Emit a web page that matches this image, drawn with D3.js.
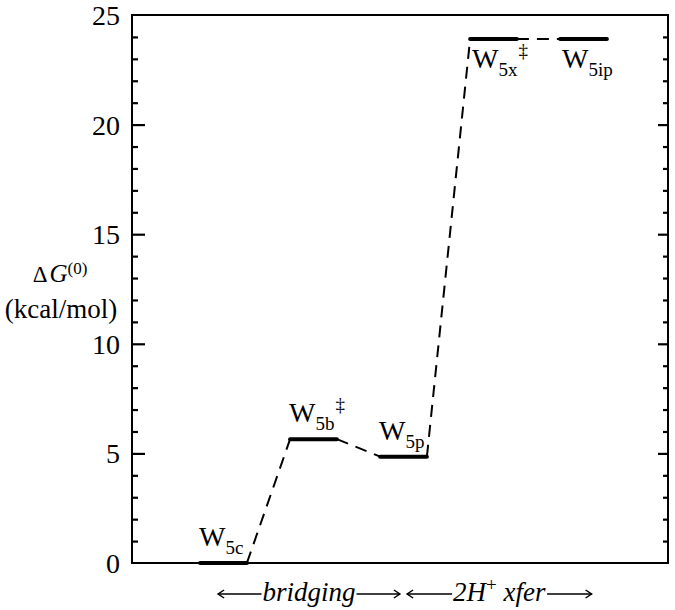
<!DOCTYPE html>
<html>
<head>
<meta charset="utf-8">
<script src="https://cdn.jsdelivr.net/npm/d3@7"></script>
<style>
  html, body { margin: 0; padding: 0; background: #fff; }
  svg { display: block; }
</style>
</head>
<body>
<div id="chart"></div>
<script>
// ---------- data ----------
const stateNames   = ["W5c", "W5b‡", "W5p", "W5x‡", "W5ip"];
const stateBase    = ["W", "W", "W", "W", "W"];
const stateSubs    = ["5c", "5b", "5p", "5x", "5ip"];
const stateSups    = ["", "‡", "", "‡", ""];
const statePos     = [1, 2, 3, 4, 5];
const energies     = [0, 5.65, 4.85, 23.9, 23.9];
const majorTicks   = [0, 5, 10, 15, 20, 25];
const minorTicks   = d3.range(0, 26, 1).filter(v => v % 5 !== 0);
const regionLabels = ["bridging", "2H+ xfer"];
const regionFrom   = [0.94, 3.04];
const regionTo     = [2.96, 5.09];

// ---------- layout ----------
const W = 675, H = 610;
const FONT = "Liberation Serif";
const plot = { left: 132, right: 668, top: 15, bottom: 563 };
const halfWidth = 0.26;   // half-length of level bars in x units

const x = d3.scaleLinear().domain([1, 5]).range([223.5, 583.5]);
const y = d3.scaleLinear().domain([0, 25]).range([plot.bottom, plot.top]);

const svg = d3.select("#chart").append("svg")
  .attr("width", W).attr("height", H)
  .attr("font-family", FONT);

function serif(sel, size) {
  return sel.attr("font-family", FONT).attr("font-size", size);
}

// ---------- axes ticks ----------
function styleAxis(g) {
  g.select(".domain").remove();
  g.selectAll(".tick line").attr("stroke", "#000").attr("stroke-width", 2.2);
}
const inner = majorTicks.filter(v => v > 0 && v < 25);
svg.append("g").attr("transform", `translate(${plot.left},0)`)
  .call(d3.axisRight(y).tickValues(minorTicks).tickSize(6).tickFormat(""))
  .call(styleAxis);
svg.append("g").attr("transform", `translate(${plot.left},0)`)
  .call(d3.axisRight(y).tickValues(inner).tickSize(13).tickFormat(""))
  .call(styleAxis);
svg.append("g").attr("transform", `translate(${plot.right},0)`)
  .call(d3.axisLeft(y).tickValues(minorTicks).tickSize(5).tickFormat(""))
  .call(styleAxis);
svg.append("g").attr("transform", `translate(${plot.right},0)`)
  .call(d3.axisLeft(y).tickValues(inner).tickSize(10).tickFormat(""))
  .call(styleAxis);
const lab = svg.append("g").attr("transform", `translate(${plot.left},0)`)
  .call(d3.axisLeft(y).tickValues(majorTicks).tickSize(0).tickPadding(12).tickFormat(d3.format("d")));
lab.select(".domain").remove();
serif(lab, 28);
serif(lab.selectAll("text"), 28).attr("fill", "#000").attr("dy", "0.34em");

// frame
svg.append("rect")
  .attr("x", plot.left).attr("y", plot.top)
  .attr("width", plot.right - plot.left).attr("height", plot.bottom - plot.top)
  .attr("fill", "none").attr("stroke", "#000").attr("stroke-width", 2);

// ---------- y axis title ----------
const t1 = serif(svg.append("text").attr("x", 60).attr("y", 282).attr("text-anchor", "middle"), 23);
t1.append("tspan").text("Δ");
serif(t1.append("tspan").attr("dx", 2), 25).attr("font-style", "italic").text("G");
serif(t1.append("tspan").attr("dy", -8), 17).text("(0)");
serif(svg.append("text").attr("x", 61).attr("y", 318).attr("text-anchor", "middle"), 27).text("(kcal/mol)");

// ---------- connectors ----------
const conn = d3.pairs(d3.range(energies.length));
svg.append("g").selectAll("line").data(conn).join("line")
  .attr("x1", d => x(statePos[d[0]] + halfWidth))
  .attr("y1", d => y(energies[d[0]]))
  .attr("x2", d => x(statePos[d[1]] - halfWidth))
  .attr("y2", d => y(energies[d[1]]))
  .attr("stroke", "#000").attr("stroke-width", 2)
  .attr("stroke-dasharray", "12,8");

// ---------- level bars ----------
svg.append("g").selectAll("line").data(energies).join("line")
  .attr("x1", (d, i) => x(statePos[i] - halfWidth))
  .attr("x2", (d, i) => x(statePos[i] + halfWidth))
  .attr("y1", d => y(d)).attr("y2", d => y(d))
  .attr("stroke", "#000").attr("stroke-width", 4).attr("stroke-linecap", "round");

// ---------- state labels ----------
const labels = serif(svg.append("g").selectAll("text").data(stateNames).join("text"), 28)
  .attr("x", (d, i) => x(statePos[i] - halfWidth) + (energies[i] > 20 ? 2 : -1))
  .attr("y", (d, i) => energies[i] > 20 ? y(energies[i]) + 29 : y(energies[i]) - 17);
labels.each(function (d, i) {
  const t = d3.select(this);
  t.append("tspan").text(stateBase[i]);
  serif(t.append("tspan").attr("dy", 8), 19).text(stateSubs[i]);
  if (stateSups[i]) {
    serif(t.append("tspan").attr("dx", 1).attr("dy", -19), 19).text(stateSups[i]);
  }
});

// ---------- region arrows ----------
const ay = 594;
const regions = svg.append("g");
regionLabels.forEach((name, i) => {
  const x0 = x(regionFrom[i]), x1 = x(regionTo[i]);
  const cx = (x0 + x1) / 2;
  const txt = serif(regions.append("text").attr("x", cx).attr("y", 601).attr("text-anchor", "middle"), 27)
    .attr("font-style", "italic");
  if (name.startsWith("2H+")) {
    txt.append("tspan").text("2H");
    serif(txt.append("tspan").attr("dy", -10), 19).attr("font-style", "normal").text("+");
    txt.append("tspan").attr("dy", 10).text(" xfer");
  } else {
    txt.text(name);
  }
  const bb = txt.node().getBBox();
  const g = regions.append("g").attr("stroke", "#000").attr("stroke-width", 1.5).attr("fill", "none");
  g.append("line").attr("x1", x0).attr("x2", bb.x - 1).attr("y1", ay).attr("y2", ay);
  g.append("line").attr("x1", bb.x + bb.width + 1).attr("x2", x1).attr("y1", ay).attr("y2", ay);
  g.append("path").attr("d", `M${x0 + 6},${ay - 4} L${x0},${ay} L${x0 + 6},${ay + 4}`);
  g.append("path").attr("d", `M${x1 - 6},${ay - 4} L${x1},${ay} L${x1 - 6},${ay + 4}`);
});
</script>
</body>
</html>
